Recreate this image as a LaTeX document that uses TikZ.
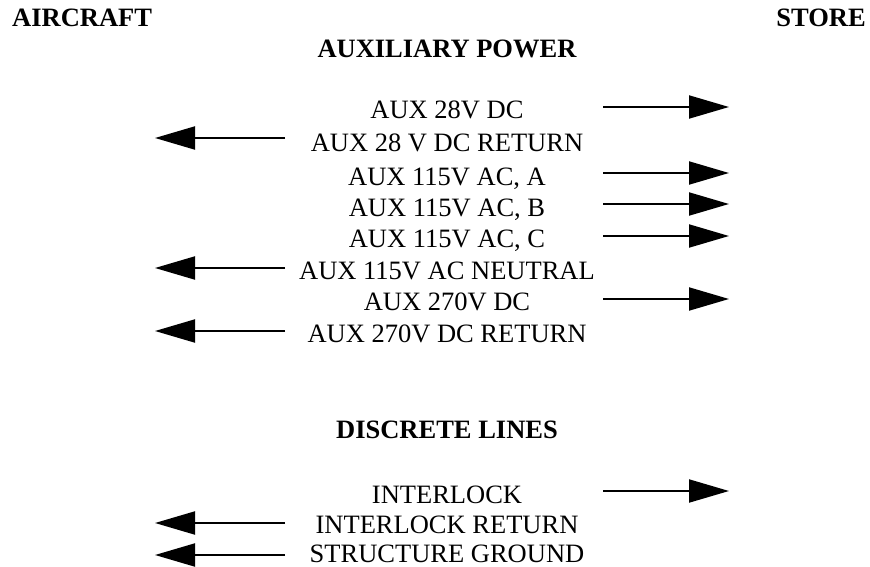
\documentclass[tikz,border=0pt]{standalone}
\usepackage{fontspec}
\setmainfont{Liberation Serif}
\usetikzlibrary{arrows.meta}
\tikzset{
  lbl/.style={inner sep=0pt, font=\fontsize{26.5}{30}\selectfont, anchor=base},
  hdr/.style={inner sep=0pt, font=\fontsize{26.5}{30}\selectfont\bfseries, anchor=base},
  sig/.style={line width=2pt, -{Triangle[length=40pt,width=23pt]}},
}
\begin{document}
\begin{tikzpicture}[x=1pt,y=-1pt]
\useasboundingbox (0,0) rectangle (870,567);
\node[hdr, anchor=base west] (ac) at (12,27) {AIRCRAFT};
\node[hdr, anchor=base east] (st) at (866,27) {STORE};
\node[hdr] (aux) at (447,58) {AUXILIARY POWER};
\node[hdr] (disc) at (447,438) {DISCRETE LINES};

\node[lbl] (r1) at (447,118.5) {AUX 28V DC};
\node[lbl] (r2) at (447,151.5) {AUX 28 V DC RETURN};
\node[lbl] (r3) at (447,185) {AUX 115V AC, A};
\node[lbl] (r4) at (447,216) {AUX 115V AC, B};
\node[lbl] (r5) at (447,247.5) {AUX 115V AC, C};
\node[lbl] (r6) at (447,279) {AUX 115V AC NEUTRAL};
\node[lbl] (r7) at (447,310.5) {AUX 270V DC};
\node[lbl] (r8) at (447,342) {AUX 270V DC RETURN};
\node[lbl] (d1) at (447,503) {INTERLOCK};
\node[lbl] (d2) at (447,533) {INTERLOCK RETURN};
\node[lbl] (d3) at (447,562) {STRUCTURE GROUND};

% right arrows (aircraft to store)
\foreach \n/\y in {r1/107, r3/173, r4/204, r5/236, r7/299, d1/491}{
  \coordinate (\n s) at (603,\y);
  \coordinate (\n e) at (729,\y);
  \draw[sig] (\n s) -- (\n e);
}
% left arrows (store to aircraft)
\foreach \n/\y in {r2/138, r6/268, r8/331, d2/523, d3/555}{
  \coordinate (\n s) at (285,\y);
  \coordinate (\n e) at (155,\y);
  \draw[sig] (\n s) -- (\n e);
}
\end{tikzpicture}
\end{document}
